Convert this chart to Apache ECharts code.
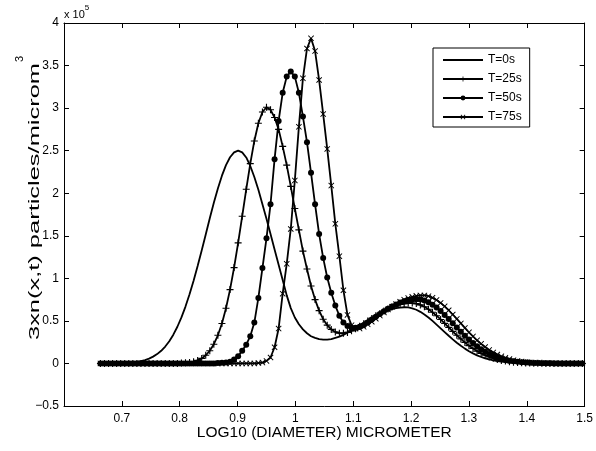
<!DOCTYPE html>
<html><head><meta charset="utf-8">
<script src="https://cdn.jsdelivr.net/npm/echarts@6/dist/echarts.min.js"></script>
<style>html,body{margin:0;padding:0;background:#fff}#c{width:596px;height:451px}</style>
</head><body><div id="c"></div>
<script>
// log10 diameter sampling grid
const diameters = [
0.663,0.670,0.677,0.684,0.691,0.698,0.705,0.712,0.719,0.726,
0.733,0.740,0.747,0.754,0.761,0.768,0.775,0.782,0.789,0.796,
0.803,0.810,0.817,0.824,0.831,0.838,0.845,0.852,0.859,0.866,
0.873,0.880,0.887,0.894,0.901,0.908,0.915,0.922,0.929,0.936,
0.943,0.950,0.957,0.964,0.971,0.978,0.985,0.992,0.999,1.006,
1.013,1.020,1.027,1.034,1.041,1.048,1.055,1.062,1.069,1.076,
1.083,1.090,1.097,1.104,1.111,1.118,1.125,1.132,1.139,1.146,
1.153,1.160,1.167,1.174,1.181,1.188,1.195,1.202,1.209,1.216,
1.223,1.230,1.237,1.244,1.251,1.258,1.265,1.272,1.279,1.286,
1.293,1.300,1.307,1.314,1.321,1.328,1.335,1.342,1.349,1.356,
1.363,1.370,1.377,1.384,1.391,1.398,1.405,1.412,1.419,1.426,
1.433,1.440,1.447,1.454,1.461,1.468,1.475,1.482,1.489,1.496];

// values in units of 1e5 particles/microm^3
const t0 = [
0,0,0,0.002,0.003,0.004,0.005,0.008,0.013,0.019,
0.028,0.04,0.057,0.08,0.11,0.149,0.199,0.261,0.338,0.431,
0.541,0.668,0.812,0.971,1.144,1.328,1.516,1.705,1.887,2.056,
2.206,2.33,2.423,2.48,2.5,2.48,2.42,2.32,2.19,2.04,
1.87,1.7,1.52,1.34,1.16,0.98,0.8,0.65,0.54,0.46,
0.4,0.355,0.32,0.3,0.285,0.28,0.28,0.285,0.3,0.315,
0.335,0.36,0.39,0.419,0.449,0.479,0.508,0.536,0.562,0.586,
0.607,0.624,0.639,0.65,0.657,0.66,0.658,0.648,0.631,0.606,
0.575,0.54,0.5,0.457,0.413,0.369,0.325,0.283,0.243,0.207,
0.174,0.144,0.118,0.095,0.076,0.06,0.047,0.036,0.027,0.021,
0.015,0.011,0.008,0.006,0.004,0.003,0.002,0,0,0,
0,0,0,0,0,0,0,0,0,0];

const t25 = [
0,0,0,0,0,0,0,0,0,0,
0,0,0,0,0,0,0,0,0,0,
0.004,0.007,0.012,0.021,0.036,0.059,0.096,0.149,0.226,0.331,
0.47,0.649,0.868,1.126,1.417,1.729,2.046,2.348,2.614,2.822,
2.954,3.01,2.98,2.89,2.75,2.55,2.33,2.08,1.82,1.57,
1.32,1.11,0.91,0.75,0.62,0.52,0.45,0.4,0.37,0.355,
0.355,0.365,0.383,0.408,0.436,0.466,0.498,0.529,0.559,0.588,
0.616,0.64,0.662,0.68,0.694,0.703,0.709,0.71,0.703,0.688,
0.666,0.636,0.601,0.561,0.517,0.471,0.424,0.377,0.331,0.288,
0.247,0.209,0.175,0.145,0.119,0.096,0.077,0.061,0.047,0.036,
0.028,0.021,0.015,0.011,0.008,0.006,0.004,0.003,0.002,0.001,
0,0,0,0,0,0,0,0,0,0];

const t50 = [
0,0,0,0,0,0,0,0,0,0,
0,0,0,0,0,0,0,0,0,0,
0,0,0,0,0,0,0,0,0,0.005,
0.008,0.012,0.02,0.045,0.085,0.15,0.22,0.32,0.48,0.77,
1.12,1.47,1.87,2.4,2.85,3.18,3.37,3.43,3.37,3.18,
2.9,2.6,2.24,1.87,1.52,1.24,1.01,0.83,0.68,0.56,
0.48,0.44,0.42,0.42,0.43,0.45,0.48,0.515,0.548,0.58,
0.612,0.643,0.67,0.694,0.715,0.732,0.744,0.752,0.755,0.752,
0.74,0.719,0.691,0.656,0.615,0.57,0.522,0.472,0.422,0.373,
0.326,0.281,0.239,0.202,0.168,0.138,0.112,0.09,0.071,0.056,
0.043,0.033,0.025,0.019,0.014,0.01,0.007,0.005,0.004,0.003,
0.002,0.001,0,0,0,0,0,0,0,0];

const t75 = [
0,0,0,0,0,0,0,0,0,0,
0,0,0,0,0,0,0,0,0,0,
0,0,0,0,0,0,0,0,0,0,
0,0,0,0,0,0,0,0,0,0.005,
0.01,0.03,0.07,0.19,0.41,0.82,1.17,1.58,2.15,2.78,
3.35,3.7,3.82,3.67,3.33,2.93,2.52,2.09,1.64,1.26,
0.86,0.57,0.45,0.41,0.41,0.43,0.46,0.49,0.525,0.562,
0.599,0.634,0.667,0.698,0.725,0.749,0.768,0.783,0.794,0.799,
0.799,0.79,0.772,0.746,0.711,0.671,0.625,0.575,0.523,0.47,
0.417,0.366,0.317,0.272,0.23,0.193,0.159,0.13,0.105,0.084,
0.066,0.051,0.039,0.03,0.023,0.017,0.012,0.009,0.006,0.004,
0.003,0.002,0.001,0,0,0,0,0,0,0];

const seriesNames = ['T=0s','T=25s','T=50s','T=75s'];
const xTicks = [0.7,0.8,0.9,1.0,1.1,1.2,1.3,1.4,1.5];
const yLabelText = '3xn(x,t) particles/microm';
const yLabelSup = '3';
const xLabelText = 'LOG10 (DIAMETER) MICROMETER';

const FONT = '"Liberation Sans", Arial, Helvetica, sans-serif';
const PLUS = 'path://M4.2,0H5.8V4.2H10V5.8H5.8V10H4.2V5.8H0V4.2H4.2Z';
const CROSS = 'path://M1.1,0L5,3.9L8.9,0L10,1.1L6.1,5L10,8.9L8.9,10L5,6.1L1.1,10L0,8.9L3.9,5L0,1.1Z';

function pairs(ys){ return diameters.map((x,i)=>[x, ys[i]]); }

const axisLineStyle = {color:'#000', width:1};
function xAx(pos, labels){
  return {
    type:'value', min:0.6, max:1.5, position:pos,
    axisLine:{show:true, onZero:false, lineStyle:axisLineStyle},
    axisTick:{show:true, inside:true, length:5, customValues:xTicks, lineStyle:{color:'#000', width:1}},
    axisLabel:{show:labels, customValues:xTicks, color:'#000', fontSize:12, fontFamily:FONT, margin:7,
      formatter:v=>String(+(+v).toFixed(1))},
    splitLine:{show:false}
  };
}
function yAx(pos, labels){
  return {
    type:'value', min:-0.5, max:4, interval:0.5, position:pos,
    axisLine:{show:true, onZero:false, lineStyle:axisLineStyle},
    axisTick:{show:true, inside:true, length:5, lineStyle:{color:'#000', width:1}},
    axisLabel:{show:labels, color:'#000', fontSize:12, fontFamily:FONT, margin:5,
      formatter:v=>{ const s=String(+(+v).toFixed(1)); return v<0 ? '\u2212'+s.slice(1) : s; }},
    splitLine:{show:false}
  };
}

const xa0 = xAx('bottom', true);
xa0.name = xLabelText;
xa0.nameLocation = 'middle';
xa0.nameGap = 19;
xa0.nameMoveOverlap = false;
xa0.nameTextStyle = {color:'#000', fontSize:15.5, fontFamily:FONT};
const xa1 = xAx('top', false);
const ya0 = yAx('left', true);
const ya1 = yAx('right', false);

const lineBase = {type:'line', xAxisIndex:0, yAxisIndex:0, showAllSymbol:true,
  lineStyle:{color:'#000', width:1.8}, itemStyle:{color:'#000', borderWidth:0}, emphasis:{disabled:true}};

const symbols = ['none', PLUS, 'circle', CROSS];
const sizes = [0, 7, 6, 6];
const allData = [t0, t25, t50, t75];

// y label: the reference renders it elongated along its length
const yFont = 15;
const ctx = document.createElement('canvas').getContext('2d');
ctx.font = yFont + 'px "Liberation Sans", Arial, sans-serif';
const bodyW = ctx.measureText(yLabelText).width;
const yBottom = 340, yTop = 63;
const yScale = (yBottom - yTop) / bodyW;

const chart = echarts.init(document.getElementById('c'), null, {renderer:'canvas'});
chart.setOption({
  animation:false,
  backgroundColor:'#fff',
  grid:{left:64, top:23, right:5, bottom:45, show:false},
  xAxis:[xa0, xa1],
  yAxis:[ya0, ya1],
  legend:{
    data:[{name:'T=0s', itemStyle:{opacity:0}}, 'T=25s', 'T=50s', 'T=75s'],
    orient:'vertical', left:433, top:48,
    itemWidth:40, itemHeight:6, itemGap:7,
    padding:[6,8,4,9], borderColor:'#000', borderWidth:1, backgroundColor:'#fff',
    textStyle:{fontSize:12, color:'#000', fontFamily:FONT},
    selectedMode:false
  },
  graphic:[
    {type:'text', x:64, y:4,
     style:{text:'{a|x 10}{b|5}', fill:'#000',
       rich:{a:{fontSize:11, fontFamily:FONT, fill:'#000', lineHeight:16, verticalAlign:'bottom'},
             b:{fontSize:8, fontFamily:FONT, fill:'#000', lineHeight:8, verticalAlign:'top'}}}},
    {type:'text', x:35, y:(yBottom+yTop)/2, rotation:Math.PI/2, scaleX:yScale,
     style:{text:yLabelText, fill:'#000', font:yFont+'px "Liberation Sans", Arial, sans-serif',
            align:'center', verticalAlign:'middle'}},
    {type:'text', x:20, y:yTop-4, rotation:Math.PI/2,
     style:{text:yLabelSup, fill:'#000', font:'11px "Liberation Sans", Arial, sans-serif',
            align:'center', verticalAlign:'middle'}}
  ],
  series: seriesNames.map((n,k)=>Object.assign({}, lineBase, {
    name:n, data:pairs(allData[k]), symbol:symbols[k], symbolSize:sizes[k], z:2+k
  }))
});
</script></body></html>
